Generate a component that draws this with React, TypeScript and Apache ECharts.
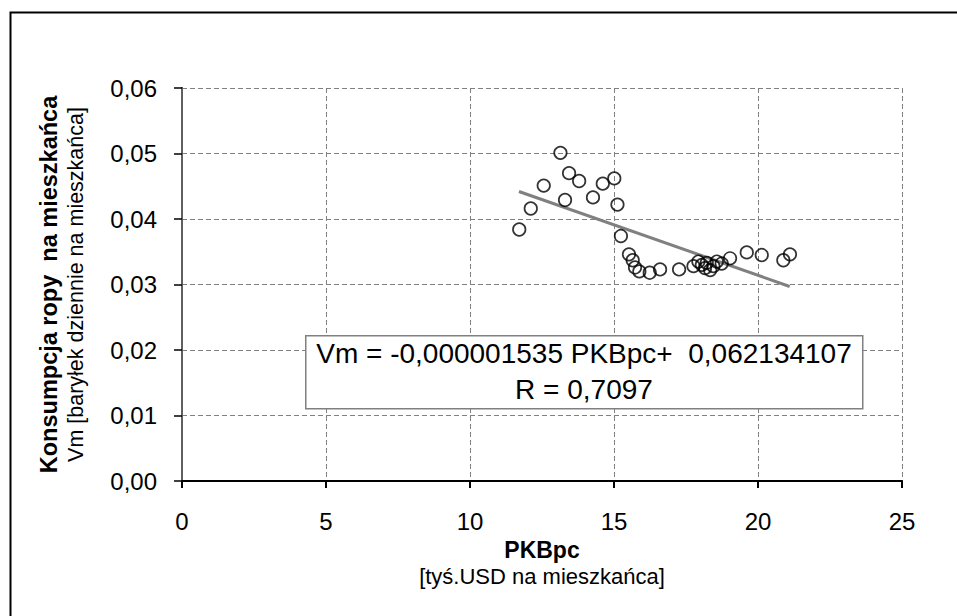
import React, { useEffect, useRef } from "react";
import * as echarts from "echarts";

const gdpX = [11.71, 12.11, 12.56, 13.14, 13.3, 13.44, 13.79, 14.27, 14.61, 15.01, 15.12, 15.24, 15.52, 15.65, 15.73, 15.88, 16.24, 16.6, 17.26, 17.76, 17.93, 18.05, 18.16, 18.22, 18.34, 18.45, 18.57, 18.74, 19.03, 19.61, 20.13, 20.88, 21.11];
const oilY = [0.0384, 0.0416, 0.0451, 0.0501, 0.0429, 0.047, 0.0458, 0.0433, 0.0454, 0.0462, 0.0422, 0.0374, 0.0346, 0.0337, 0.0326, 0.032, 0.0318, 0.0323, 0.0323, 0.0328, 0.0335, 0.033, 0.0325, 0.0333, 0.0322, 0.0328, 0.0335, 0.0332, 0.034, 0.0349, 0.0345, 0.0337, 0.0346];
const trendX = [11.7, 21.1];
const trendY = [0.0442, 0.0297];
const equationLines = ["Vm = -0,000001535 PKBpc+  0,062134107", "R = 0,7097"];
const xTitle = "PKBpc";
const xSubtitle = "[tyś.USD na mieszkańca]";
const yTitle = "Konsumpcja ropy  na mieszkańca";
const ySubtitle = "Vm [baryłek dziennie na mieszkańca]";

const FONT = "'Liberation Sans', Arial, sans-serif";

export default function App() {
  const ref = useRef<HTMLDivElement>(null);
  useEffect(() => {
    if (!ref.current) return;
    const chart = echarts.init(ref.current, undefined, { renderer: "svg" });
    const scatterData = gdpX.map((x, i) => [x, oilY[i]]);
    const trendData = trendX.map((x, i) => [x, trendY[i]]);
    chart.setOption({
      animation: false,
      backgroundColor: "#fff",
      textStyle: { fontFamily: FONT },
      grid: { left: 182, right: 55, top: 88, bottom: 135, containLabel: false },
      xAxis: {
        type: "value",
        min: 0,
        max: 25,
        interval: 5,
        name: `{a|${xTitle}}\n{b|${xSubtitle}}`,
        nameLocation: "middle",
        nameGap: 55,
        nameTextStyle: {
          rich: {
            a: { fontFamily: FONT, fontSize: 23, fontWeight: "bold", color: "#000", lineHeight: 27 },
            b: { fontFamily: FONT, fontSize: 22, color: "#000", lineHeight: 27 },
          },
        },
        axisLine: { show: true, onZero: false, lineStyle: { color: "#000", width: 2 } },
        axisTick: { show: true, length: 7, lineStyle: { color: "#000", width: 2 } },
        axisLabel: { color: "#000", fontSize: 24, fontFamily: FONT, margin: 28 },
        splitLine: { show: true, lineStyle: { color: "#808080", type: [5, 3], width: 1 } },
      },
      yAxis: [
        {
          type: "value",
          min: 0,
          max: 0.06,
          interval: 0.01,
          name: `{a|${yTitle}}\n{b|${ySubtitle}}`,
          nameLocation: "middle",
          nameGap: 93,
          nameTextStyle: {
            rich: {
              a: { fontFamily: FONT, fontSize: 23.5, fontWeight: "bold", color: "#000", lineHeight: 27 },
              b: { fontFamily: FONT, fontSize: 21.5, color: "#000", lineHeight: 27 },
            },
          },
          axisLine: { show: true, onZero: false, lineStyle: { color: "#000", width: 2 } },
          axisTick: { show: true, length: 8, lineStyle: { color: "#000", width: 1.5 } },
          axisLabel: {
            color: "#000",
            fontSize: 24,
            fontFamily: FONT,
            margin: 25,
            formatter: (v: number) => v.toFixed(2).replace(".", ","),
          },
          splitLine: { show: true, lineStyle: { color: "#808080", type: [5, 3], width: 1 } },
        },
        {
          type: "value",
          min: 0,
          max: 0.06,
          interval: 0.01,
          position: "right",
          axisLine: { show: true, lineStyle: { color: "#808080", width: 1.5 } },
          axisTick: { show: false },
          axisLabel: { show: false },
          splitLine: { show: false },
        },
      ],
      series: [
        {
          type: "line",
          data: trendData,
          symbol: "none",
          lineStyle: { color: "#808080", width: 3 },
          z: 2,
        },
        {
          type: "scatter",
          data: scatterData,
          symbol: "circle",
          symbolSize: 12.5,
          itemStyle: { color: "rgba(0,0,0,0)", borderColor: "#000", borderWidth: 1.7 },
          z: 3,
        },
      ],
      graphic: [
        {
          type: "rect",
          left: 8,
          top: 10,
          shape: { width: 960, height: 700 },
          style: { fill: "none", stroke: "#000", lineWidth: 2 },
          silent: true,
          z: 0,
        },
        {
          type: "rect",
          left: 305,
          top: 335,
          shape: { width: 557, height: 73 },
          style: { fill: "#fff", stroke: "#808080", lineWidth: 1.5 },
          z: 10,
        },
        {
          type: "text",
          x: 584,
          y: 353,
          style: { text: equationLines[0], fontFamily: FONT, fontSize: 28, fill: "#000", align: "center", verticalAlign: "middle" },
          z: 11,
        },
        {
          type: "text",
          x: 584,
          y: 389,
          style: { text: equationLines[1], fontFamily: FONT, fontSize: 28, fill: "#000", align: "center", verticalAlign: "middle" },
          z: 11,
        },
      ],
    });
    return () => chart.dispose();
  }, []);
  return <div ref={ref} style={{ position: "fixed", left: 0, top: 0, width: 957, height: 616 }} />;
}
